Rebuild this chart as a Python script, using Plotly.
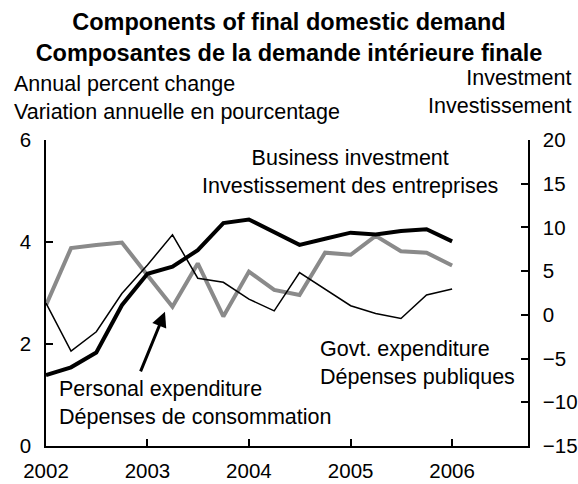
"""
Components of final domestic demand - bilingual dual-axis line chart.
"""

import pandas as pd
import plotly.graph_objects as go

# quarterly observations, 2002Q1 .. 2006Q1
quarters = pd.date_range("2002-01-01", periods=17, freq="QS")

# annual percent change, left axis
personal_expenditure = [2.76, 3.88, 3.94, 3.99, 3.35, 2.73, 3.58, 2.54, 3.42,
                        3.06, 2.96, 3.79, 3.75, 4.12, 3.82, 3.79, 3.54]
govt_expenditure = [2.80, 1.86, 2.24, 2.99, 3.55, 4.14, 3.29, 3.21, 2.88,
                    2.65, 3.40, 3.07, 2.75, 2.60, 2.50, 2.96, 3.08]

# investment, right axis
business_investment = [-6.9, -6.0, -4.3, 1.1, 4.7, 5.5, 7.4, 10.5, 10.9,
                       9.4, 8.0, 8.7, 9.4, 9.2, 9.6, 9.8, 8.4]

year_ticks = ["2002-01-01", "2003-01-01", "2004-01-01", "2005-01-01", "2006-01-01"]
year_labels = ["2002", "2003", "2004", "2005", "2006"]

FONT = "Liberation Sans, Arial, sans-serif"
GRAY = "#8a8a8a"

fig = go.Figure()

fig.add_trace(go.Scatter(x=quarters, y=personal_expenditure, mode="lines",
                         line=dict(color=GRAY, width=4), yaxis="y"))
fig.add_trace(go.Scatter(x=quarters, y=govt_expenditure, mode="lines",
                         line=dict(color="black", width=1.5), yaxis="y"))
fig.add_trace(go.Scatter(x=quarters, y=business_investment, mode="lines",
                         line=dict(color="black", width=4), yaxis="y2"))

axis_common = dict(showline=True, linecolor="black", linewidth=1.5,
                   ticks="inside", ticklen=7, tickcolor="black", tickwidth=1.5,
                   showgrid=False, zeroline=False, automargin=False,
                   tickfont=dict(family=FONT, size=20.5, color="black"))

fig.update_layout(
    width=578, height=484,
    margin=dict(l=46, r=50, t=140, b=38),
    paper_bgcolor="white", plot_bgcolor="white",
    showlegend=False,
    font=dict(family=FONT, size=21.5, color="black"),
    title=dict(text="<b>Components of final domestic demand</b><br>"
                    "<b>Composantes de la demande intérieure finale</b>",
               x=0.5, xanchor="center", y=0.937, yanchor="top",
               font=dict(family=FONT, size=23.5, color="black")),
    xaxis=dict(type="date", range=["2002-01-01", "2006-10-01"],
               tickvals=year_ticks, ticktext=year_labels,
               ticklabelstandoff=6, **axis_common),
    yaxis=dict(range=[0, 6], tickvals=[0, 2, 4, 6],
               ticklabelstandoff=9, **axis_common),
    yaxis2=dict(range=[-15, 20], tickvals=[-15, -10, -5, 0, 5, 10, 15, 20],
                overlaying="y", side="right",
                ticklabelstandoff=9, **axis_common),
)

annotations = [
    dict(text="Annual percent change<br>Variation annuelle en pourcentage",
         x=-0.0705, y=1.137, xanchor="left", yanchor="middle", align="left"),
    dict(text="Investment<br>Investissement",
         x=1.093, y=1.157, xanchor="right", yanchor="middle", align="right"),
    dict(text="Business investment<br>Investissement des entreprises",
         x=0.631, y=0.895, xanchor="center", yanchor="middle", align="center"),
    dict(text="Govt. expenditure<br>Dépenses publiques",
         x=0.564, y=0.271, xanchor="left", yanchor="middle", align="left"),
    dict(text="Personal expenditure<br>Dépenses de consommation",
         x=0.023, y=0.14, xanchor="left", yanchor="middle", align="left"),
]
for a in annotations:
    fig.add_annotation(xref="paper", yref="paper", showarrow=False, **a)

# arrow pointing at the personal expenditure line
fig.add_annotation(x="2003-03-05", y=2.63, xref="x", yref="y", text="",
                   showarrow=True, arrowhead=2, arrowsize=1, arrowwidth=3,
                   arrowcolor="black", ax=-25, ay=61)

# the page's default body margin would push the fixed-size figure off the window
fig.write_html("out.html", config={"displayModeBar": False},
               post_script="document.body.style.margin = '0px';")
